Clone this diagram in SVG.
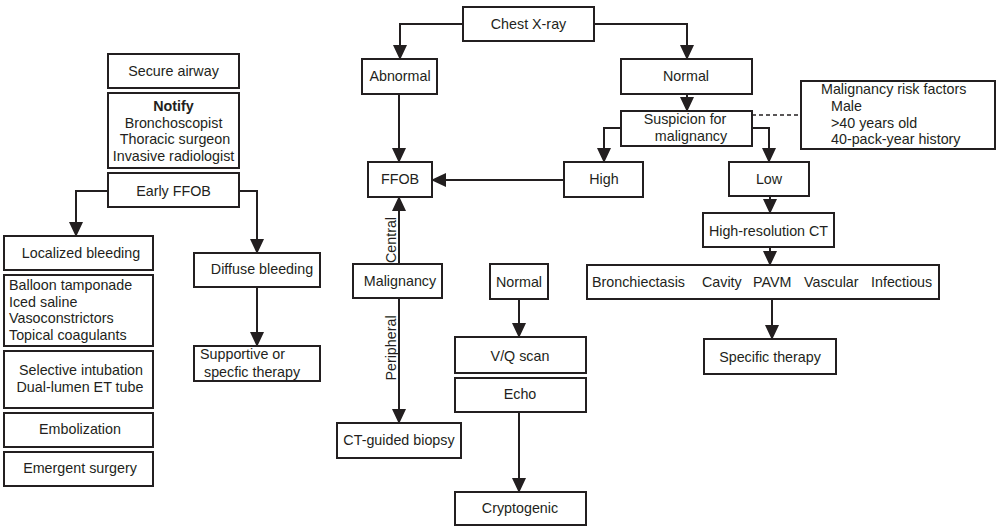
<svg xmlns="http://www.w3.org/2000/svg" width="997" height="526" viewBox="0 0 997 526">
<style>
  .box { fill: #ffffff; stroke: #231f20; stroke-width: 2; }
  .t { font-family: "Liberation Sans", Arial, Helvetica, sans-serif; font-size: 14.3px; fill: #231f20; text-anchor: middle; }
  .l { text-anchor: start; }
  .b { font-weight: bold; }
  .c { fill: none; stroke: #231f20; stroke-width: 2; }
  .a { marker-end: url(#ah); }
  .d { stroke-dasharray: 4 3; stroke-width: 1.5; }
</style>
<defs>
  <marker id="ah" markerUnits="userSpaceOnUse" markerWidth="16" markerHeight="15" refX="14" refY="7" orient="auto">
    <path d="M0,0 L15,7 L0,14 z" fill="#231f20"/>
  </marker>
</defs>
<rect width="997" height="526" fill="#ffffff"/>

<g id="connectors">
  <path class="c a" d="M108,191 H76 V236"/>
  <path class="c a" d="M239,191 H257 V253"/>
  <path class="c a" d="M257,287 V346"/>
  <path class="c a" d="M463,24 H400 V59"/>
  <path class="c a" d="M594,24 H687 V59"/>
  <path class="c a" d="M687,94 V111"/>
  <path class="c a" d="M399,94 V162"/>
  <path class="c a" d="M621,128 H604 V162"/>
  <path class="c a" d="M752,128 H769 V162"/>
  <path class="c a" d="M564,180 H432"/>
  <path class="c d" d="M752,115 H801"/>
  <path class="c a" d="M770,196 V213"/>
  <path class="c a" d="M770,247 V265"/>
  <path class="c a" d="M772,299 V339"/>
  <path class="c a" d="M399,264 V197"/>
  <path class="c a" d="M399,298 V423"/>
  <path class="c a" d="M519,299 V337"/>
  <path class="c a" d="M519,412 V492"/>
  <text class="t" transform="translate(396,240) rotate(-90)">Central</text>
  <text class="t" transform="translate(396,348) rotate(-90)">Peripheral</text>
</g>

<g id="secure"><rect class="box" x="108" y="54" width="131" height="34"/><text class="t" x="173.5" y="76">Secure airway</text></g>
<g id="notify"><rect class="box" x="108" y="93" width="131" height="75"/>
  <text class="t b" x="173.5" y="111">Notify</text>
  <text class="t" x="173.5" y="128">Bronchoscopist</text>
  <text class="t" x="175" y="144">Thoracic surgeon</text>
  <text class="t" x="173.5" y="161">Invasive radiologist</text></g>
<g id="earlyffob"><rect class="box" x="108" y="173" width="131" height="34"/><text class="t" x="173.5" y="196">Early FFOB</text></g>
<g id="localized"><rect class="box" x="4" y="236" width="149" height="34"/><text class="t" x="81" y="258">Localized bleeding</text></g>
<g id="balloon"><rect class="box" x="4" y="275" width="149" height="71"/>
  <text class="t l" x="9" y="290">Balloon tamponade</text>
  <text class="t l" x="9" y="307">Iced saline</text>
  <text class="t l" x="9" y="323">Vasoconstrictors</text>
  <text class="t l" x="9" y="340">Topical coagulants</text></g>
<g id="selective"><rect class="box" x="4" y="351" width="149" height="57"/>
  <text class="t" x="81" y="375">Selective intubation</text>
  <text class="t" x="80" y="392">Dual-lumen ET tube</text></g>
<g id="embolization"><rect class="box" x="4" y="413" width="149" height="34"/><text class="t" x="80" y="434">Embolization</text></g>
<g id="emergent"><rect class="box" x="4" y="452" width="149" height="34"/><text class="t" x="80" y="473">Emergent surgery</text></g>
<g id="diffuse"><rect class="box" x="194" y="253" width="126" height="34"/><text class="t" x="262" y="274">Diffuse bleeding</text></g>
<g id="supportive"><rect class="box" x="194" y="346" width="126" height="35"/>
  <text class="t l" x="200" y="359">Supportive or</text>
  <text class="t l" x="204" y="377">specfic therapy</text></g>

<g id="chest"><rect class="box" x="463" y="7" width="131" height="34"/><text class="t" x="528.5" y="29">Chest X-ray</text></g>
<g id="abnormal"><rect class="box" x="362" y="59" width="75" height="35"/><text class="t" x="400" y="81">Abnormal</text></g>
<g id="normal1"><rect class="box" x="621" y="59" width="131" height="35"/><text class="t" x="686" y="81">Normal</text></g>
<g id="suspicion"><rect class="box" x="621" y="111" width="131" height="35"/>
  <text class="t" x="685" y="124">Suspicion for</text>
  <text class="t" x="691" y="141">malignancy</text></g>
<g id="risk"><rect class="box" x="801" y="81" width="194" height="68"/>
  <text class="t l" x="821" y="94">Malignancy risk factors</text>
  <text class="t l" x="831" y="111">Male</text>
  <text class="t l" x="831" y="128">&gt;40 years old</text>
  <text class="t l" x="831" y="144">40-pack-year history</text></g>
<g id="ffob"><rect class="box" x="368" y="162" width="64" height="35"/><text class="t" x="400" y="184">FFOB</text></g>
<g id="high"><rect class="box" x="564" y="162" width="79" height="35"/><text class="t" x="604" y="184">High</text></g>
<g id="low"><rect class="box" x="729" y="162" width="80" height="34"/><text class="t" x="769" y="184">Low</text></g>
<g id="hrct"><rect class="box" x="703" y="213" width="131" height="34"/><text class="t" x="768.5" y="236">High-resolution CT</text></g>
<g id="findings"><rect class="box" x="587" y="265" width="352" height="34"/>
  <text class="t l" y="287"><tspan x="592">Bronchiectasis</tspan><tspan x="702">Cavity</tspan><tspan x="753">PAVM</tspan><tspan x="804">Vascular</tspan><tspan x="871">Infectious</tspan></text></g>
<g id="specific"><rect class="box" x="704" y="339" width="132" height="35"/><text class="t" x="770" y="362">Specific therapy</text></g>
<g id="malignancy"><rect class="box" x="353" y="264" width="89" height="34"/><text class="t" x="400" y="286">Malignancy</text></g>
<g id="normal2"><rect class="box" x="490" y="264" width="58" height="35"/><text class="t" x="519" y="287">Normal</text></g>
<g id="vq"><rect class="box" x="455" y="337" width="131" height="36"/><text class="t" x="520" y="361">V/Q scan</text></g>
<g id="echo"><rect class="box" x="455" y="378" width="131" height="34"/><text class="t" x="520" y="399">Echo</text></g>
<g id="ctbiopsy"><rect class="box" x="337" y="423" width="124" height="35"/><text class="t" x="399" y="445">CT-guided biopsy</text></g>
<g id="cryptogenic"><rect class="box" x="455" y="492" width="131" height="33"/><text class="t" x="520" y="513">Cryptogenic</text></g>
</svg>
